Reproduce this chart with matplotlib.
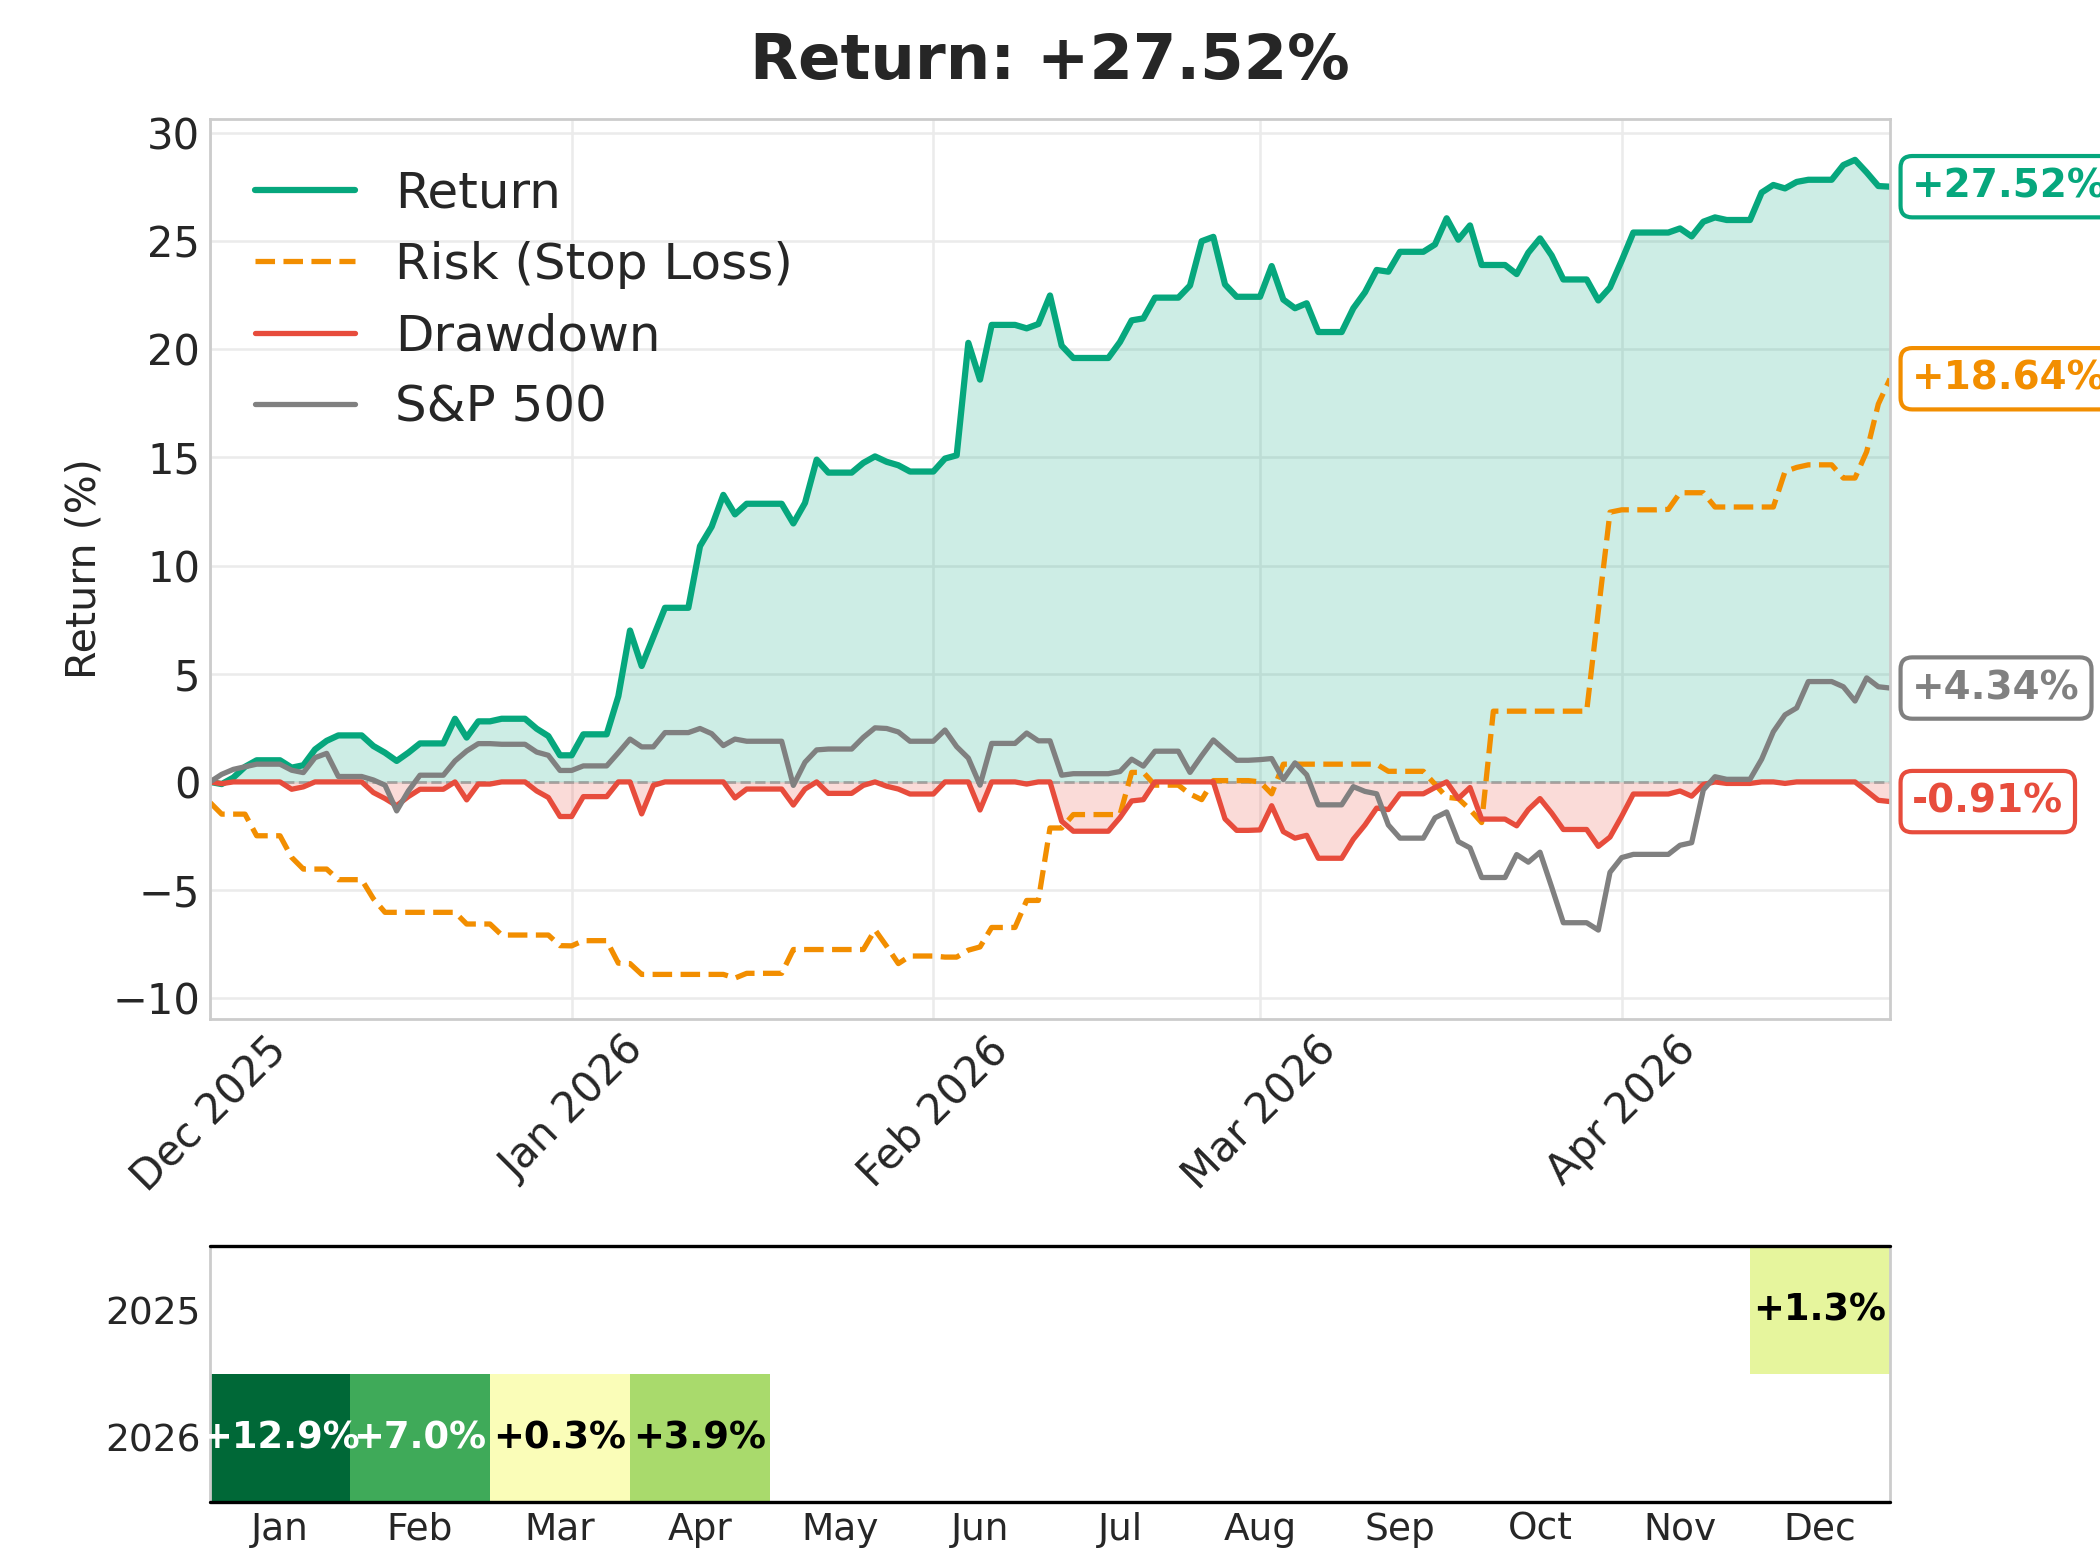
import numpy as np
import pandas as pd
import matplotlib
matplotlib.use("Agg")
import matplotlib.pyplot as plt
import matplotlib.dates as mdates
from matplotlib.colors import Normalize

# ---------------- data (daily, 2025-12-01 .. 2026-04-24) ----------------
start_date = "2025-12-01"
end_date = "2026-04-24"

strategy_return = [
    # Dec
    0.0, -0.1, 0.2, 0.7, 1.0, 1.0, 1.0, 0.66, 0.77, 1.5, 1.9, 2.15, 2.15, 2.15, 1.66, 1.35,
    0.97, 1.35, 1.78, 1.78, 1.78, 2.92, 2.05, 2.8, 2.8, 2.92, 2.92, 2.92, 2.46, 2.12, 1.23,
    # Jan
    1.23, 2.2, 2.2, 2.2, 3.96, 7.0, 5.36, 6.7, 8.05, 8.05, 8.05, 10.9, 11.8, 13.27, 12.37, 12.86,
    12.86, 12.86, 12.86, 11.95, 12.9, 14.9, 14.3, 14.3, 14.3, 14.75, 15.05, 14.8, 14.64, 14.35, 14.35,
    # Feb
    14.35, 14.95, 15.1, 20.3, 18.6, 21.13, 21.13, 21.13, 20.97, 21.17, 22.49, 20.17, 19.6, 19.6,
    19.6, 19.6, 20.34, 21.34, 21.43, 22.39, 22.39, 22.39, 22.95, 25.0, 25.2, 23.0, 22.43, 22.43,
    # Mar
    22.43, 23.85, 22.3, 21.9, 22.13, 20.8, 20.8, 20.8, 21.9, 22.64, 23.67, 23.59, 24.51, 24.51,
    24.51, 24.85, 26.06, 25.07, 25.73, 23.9, 23.9, 23.9, 23.48, 24.47, 25.13, 24.34, 23.23, 23.23,
    23.23, 22.26, 22.86,
    # Apr
    24.1, 25.4, 25.4, 25.4, 25.4, 25.59, 25.22, 25.9, 26.1, 25.98, 25.98, 25.98, 27.25, 27.6,
    27.44, 27.74, 27.84, 27.84, 27.84, 28.52, 28.76, 28.18, 27.55, 27.52,
]

stop_loss_risk = [
    # Dec
    -0.95, -1.49, -1.49, -1.49, -2.49, -2.49, -2.49, -3.49, -4.03, -4.03, -4.03, -4.52, -4.52, -4.52,
    -5.4, -6.03, -6.03, -6.03, -6.03, -6.03, -6.03, -6.03, -6.57, -6.57, -6.57, -7.08, -7.08, -7.08,
    -7.08, -7.08, -7.57,
    # Jan
    -7.58, -7.34, -7.34, -7.34, -8.38, -8.4, -8.9, -8.9, -8.9, -8.9, -8.9, -8.9, -8.9, -8.9, -9.07,
    -8.85, -8.85, -8.85, -8.85, -7.75, -7.75, -7.75, -7.75, -7.75, -7.75, -7.75, -6.84, -7.6, -8.4,
    -8.05, -8.05,
    # Feb
    -8.05, -8.1, -8.1, -7.78, -7.63, -6.73, -6.73, -6.73, -5.48, -5.48, -2.13, -2.13, -1.51, -1.51,
    -1.51, -1.51, -1.51, 0.44, 0.44, -0.15, -0.15, -0.15, -0.56, -0.82, 0.06, 0.06, 0.06, 0.06,
    # Mar
    0.0, -0.55, 0.82, 0.82, 0.82, 0.82, 0.82, 0.82, 0.82, 0.82, 0.82, 0.49, 0.49, 0.49, 0.49,
    -0.11, -0.71, -0.77, -1.28, -1.88, 3.27, 3.27, 3.27, 3.27, 3.27, 3.27, 3.27, 3.27, 3.27,
    7.9, 12.47,
    # Apr
    12.58, 12.58, 12.58, 12.58, 12.6, 13.37, 13.37, 13.37, 12.71, 12.71, 12.71, 12.71, 12.71, 12.71,
    14.35, 14.54, 14.66, 14.66, 14.66, 14.05, 14.05, 15.27, 17.47, 18.64,
]

drawdown = [
    # Dec
    0.0, -0.08, 0.0, 0.0, 0.0, 0.0, 0.0, -0.34, -0.23, 0.0, 0.0, 0.0, 0.0, 0.0, -0.49, -0.77,
    -1.1, -0.68, -0.34, -0.34, -0.34, 0.0, -0.83, -0.1, -0.1, 0.0, 0.0, 0.0, -0.42, -0.72, -1.6,
    # Jan
    -1.6, -0.68, -0.68, -0.68, 0.0, 0.0, -1.48, -0.16, 0.0, 0.0, 0.0, 0.0, 0.0, 0.0, -0.74, -0.33,
    -0.33, -0.33, -0.33, -1.07, -0.33, 0.0, -0.53, -0.53, -0.53, -0.16, 0.0, -0.2, -0.33, -0.56, -0.56,
    # Feb
    -0.56, 0.0, 0.0, 0.0, -1.3, 0.0, 0.0, 0.0, -0.1, 0.0, 0.0, -1.82, -2.28, -2.28, -2.28, -2.28,
    -1.65, -0.88, -0.82, 0.0, 0.0, 0.0, 0.0, 0.0, 0.0, -1.71, -2.24, -2.24,
    # Mar
    -2.22, -1.1, -2.3, -2.6, -2.47, -3.53, -3.53, -3.53, -2.65, -1.99, -1.21, -1.28, -0.55, -0.55,
    -0.55, -0.26, 0.0, -0.77, -0.26, -1.72, -1.72, -1.72, -2.03, -1.28, -0.77, -1.44, -2.2, -2.2,
    -2.2, -2.98, -2.55,
    # Apr
    -1.59, -0.56, -0.56, -0.56, -0.56, -0.42, -0.66, -0.12, 0.0, -0.07, -0.07, -0.07, 0.0, 0.0,
    -0.07, 0.0, 0.0, 0.0, 0.0, 0.0, 0.0, -0.42, -0.85, -0.91,
]

sp500_return = [
    # Dec
    0.0, 0.35, 0.58, 0.7, 0.82, 0.82, 0.82, 0.54, 0.43, 1.12, 1.32, 0.25, 0.25, 0.25, 0.09, -0.15,
    -1.34, -0.42, 0.31, 0.31, 0.31, 0.97, 1.43, 1.77, 1.77, 1.74, 1.74, 1.74, 1.38, 1.23, 0.53,
    # Jan
    0.53, 0.74, 0.74, 0.74, 1.35, 1.98, 1.62, 1.62, 2.28, 2.28, 2.28, 2.47, 2.23, 1.68, 1.98, 1.88,
    1.88, 1.88, 1.88, -0.16, 0.91, 1.48, 1.52, 1.52, 1.52, 2.06, 2.5, 2.47, 2.31, 1.88, 1.88,
    # Feb
    1.88, 2.4, 1.63, 1.1, -0.15, 1.78, 1.78, 1.78, 2.26, 1.9, 1.9, 0.31, 0.38, 0.38, 0.38, 0.38,
    0.48, 1.05, 0.73, 1.42, 1.42, 1.42, 0.44, 1.21, 1.94, 1.46, 1.0, 1.0,
    # Mar
    1.03, 1.08, 0.11, 0.88, 0.33, -1.06, -1.06, -1.06, -0.22, -0.44, -0.55, -1.99, -2.6, -2.6,
    -2.6, -1.66, -1.39, -2.76, -3.05, -4.42, -4.42, -4.42, -3.36, -3.71, -3.25, -4.86, -6.51, -6.51,
    -6.51, -6.85, -4.18,
    # Apr
    -3.5, -3.35, -3.35, -3.35, -3.35, -2.93, -2.81, -0.37, 0.24, 0.12, 0.12, 0.12, 1.05, 2.32,
    3.1, 3.42, 4.64, 4.64, 4.64, 4.4, 3.74, 4.81, 4.4, 4.34,
]

series_labels = ["Return", "Risk (Stop Loss)", "Drawdown", "S&P 500"]

heat_years = ["2025", "2026"]
heat_months = ["Jan", "Feb", "Mar", "Apr", "May", "Jun", "Jul", "Aug", "Sep", "Oct", "Nov", "Dec"]
monthly_2025 = [np.nan] * 11 + [1.3]
monthly_2026 = [12.9, 7.0, 0.3, 3.9] + [np.nan] * 8

# ---------------- styling ----------------
GREEN = "#06a77d"
ORANGE = "#f28e00"
RED = "#e74c3c"
GRAY = "#808080"
TXT = "#262626"
plt.rcParams["font.family"] = ["DejaVu Sans"]
plt.rcParams["lines.solid_capstyle"] = "round"

dates = pd.date_range(start_date, end_date, freq="D")
ret = np.array(strategy_return)
risk = np.array(stop_loss_risk)
dd = np.array(drawdown)
spx = np.array(sp500_return)

fig = plt.figure(figsize=(10.5, 7.775), dpi=200)
ax = fig.add_axes([0.1, 0.3447, 0.8, 0.5788])

ax.set_axisbelow(True)
ax.grid(True, color="#ebebeb", lw=0.9)
for s in ax.spines.values():
    s.set_color("#cccccc")
    s.set_linewidth(1.0)

ax.fill_between(dates, ret, 0, color=GREEN, alpha=0.2, lw=0)
ax.fill_between(dates, dd, 0, color=RED, alpha=0.2, lw=0)
ax.axhline(0, color="gray", ls="--", lw=1.0, alpha=0.6)

l1, = ax.plot(dates, ret, color=GREEN, lw=2.25, label=series_labels[0])
l2, = ax.plot(dates, risk, color=ORANGE, lw=1.9, ls="--", label=series_labels[1])
l3, = ax.plot(dates, dd, color=RED, lw=1.9, label=series_labels[2])
l4, = ax.plot(dates, spx, color=GRAY, lw=1.9, label=series_labels[3])

ax.set_xlim(dates[0], dates[-1])
ax.xaxis.set_major_locator(mdates.MonthLocator())
ax.xaxis.set_major_formatter(mdates.DateFormatter("%b %Y"))
ax.set_yticks([-10, -5, 0, 5, 10, 15, 20, 25, 30])
ax.tick_params(axis="both", length=0, labelsize=15, colors=TXT, pad=3.5)
plt.setp(ax.get_xticklabels(), rotation=45)
ax.set_ylabel("Return (%)", fontsize=14.8, color=TXT, labelpad=3)

leg = ax.legend(loc="upper left", bbox_to_anchor=(0.0, 0.994), fontsize=18,
                frameon=False, handlelength=2.0, labelspacing=0.47)
for t in leg.get_texts():
    t.set_color(TXT)

# end-of-series labels
for vals, col in [(ret, GREEN), (risk, ORANGE), (spx, GRAY), (dd, RED)]:
    ax.annotate(f"{vals[-1]:+.2f}%", xy=(dates[-1], vals[-1]), xytext=(8, 0),
                textcoords="offset points", va="center", ha="left",
                fontsize=14, fontweight="bold", color=col, annotation_clip=False,
                bbox=dict(boxstyle="round,pad=0.3", fc="white", ec=col, lw=1.5))

fig.text(0.5, 0.9492, f"Return: {ret[-1]:+.2f}%", ha="center", va="baseline",
         fontsize=22.5, fontweight="bold", color=TXT)

# ---------------- monthly heatmap ----------------
hax = fig.add_axes([0.1, 0.0341, 0.8, 0.1646])
heat = np.array([monthly_2025, monthly_2026])
norm = Normalize(-10, 10)
cmap = plt.get_cmap("RdYlGn")
masked = np.ma.masked_invalid(heat)
hax.pcolormesh(np.arange(13), np.arange(3), masked, cmap=cmap, norm=norm)
hax.set_xlim(0, 12)
hax.set_ylim(2, 0)


def _lin(c):
    return c / 12.92 if c <= 0.03928 else ((c + 0.055) / 1.055) ** 2.4


for i in range(heat.shape[0]):
    for j in range(heat.shape[1]):
        v = heat[i, j]
        if np.isnan(v):
            continue
        r, g, b, _ = cmap(norm(v))
        lum = 0.2126 * _lin(r) + 0.7152 * _lin(g) + 0.0722 * _lin(b)
        tc = "black" if lum > 0.408 else "white"
        hax.text(j + 0.5, i + 0.5, f"{v:+.1f}%", ha="center", va="center",
                 fontsize=13.3, fontweight="bold", color=tc)
hax.set_xticks(np.arange(12) + 0.5)
hax.set_xticklabels(heat_months)
hax.set_yticks(np.arange(2) + 0.5)
hax.set_yticklabels(heat_years)
hax.tick_params(axis="both", length=0, labelsize=13.5, colors=TXT, pad=3.5)
hax.grid(False)
for s in hax.spines.values():
    s.set_color("#cccccc")
    s.set_linewidth(1.0)
hax.axhline(0, color="black", lw=1.2, zorder=3, clip_on=False)
hax.axhline(2, color="black", lw=1.2, zorder=3, clip_on=False)

fig.savefig("out.png", dpi=200, facecolor="white")
